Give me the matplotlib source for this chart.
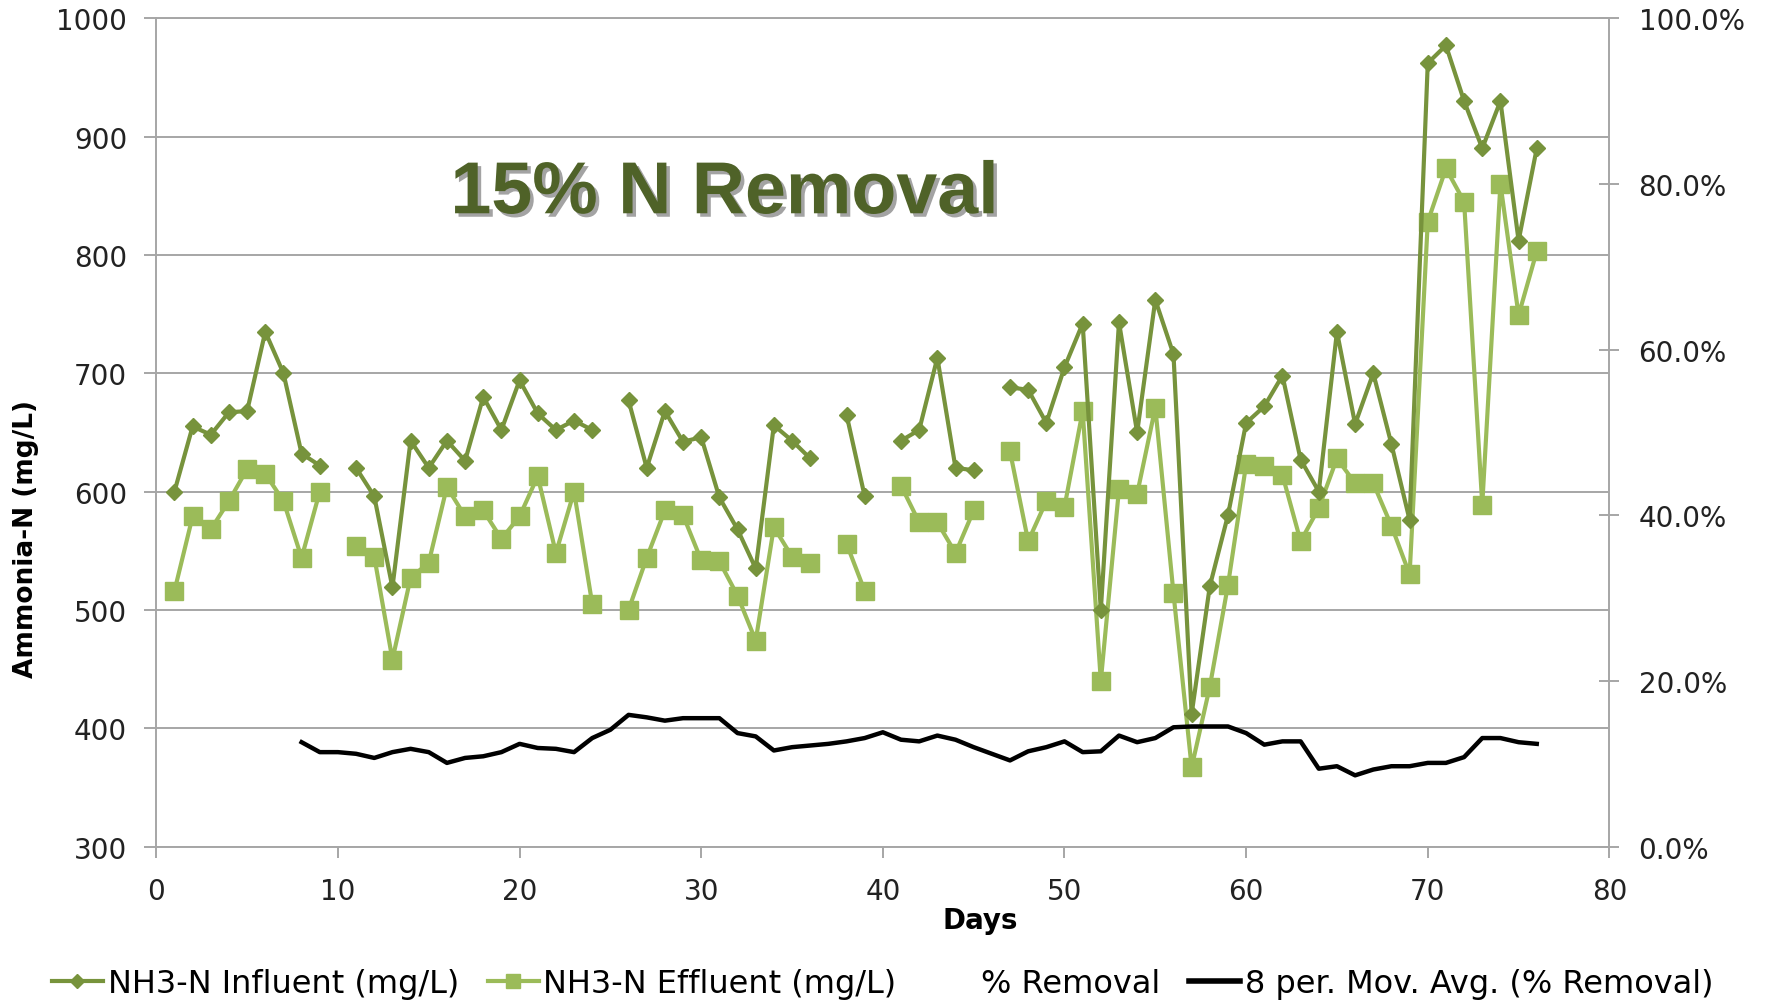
import numpy as np
import matplotlib
matplotlib.use("Agg")
import matplotlib.pyplot as plt
import matplotlib.patheffects as pe
from matplotlib.lines import Line2D
from matplotlib.ticker import PercentFormatter

nan = np.nan

# days 1..76, nan = no sample that day
days = list(range(1, 77))
influent = [600, 655, 648, 667, 668, 735, 700, 632, 622, nan,
            620, 596, 519, 643, 620, 643, 626, 680, 652, 694,
            666, 652, 660, 652, nan, 677, 620, 668, 642, 646,
            595, 568, 535, 656, 643, 628, nan, 665, 596, nan,
            643, 652, 713, 620, 618, nan, 688, 686, 658, 705,
            742, 500, 743, 650, 762, 716, 412, 520, 580, 658,
            672, 698, 627, 600, 735, 657, 700, 640, 576, 962,
            977, 930, 890, 930, 812, 890]
effluent = [516, 579, 568, 592, 619, 615, 592, 544, 600, nan,
            554, 545, 458, 527, 540, 604, 579, 584, 560, 579,
            613, 548, 600, 505, nan, 500, 544, 584, 580, 542,
            541, 512, 474, 570, 545, 540, nan, 556, 516, nan,
            605, 574, 574, 548, 584, nan, 634, 558, 592, 587,
            668, 440, 602, 598, 671, 514, 367, 435, 521, 623,
            622, 614, 558, 586, 628, 607, 607, 571, 530, 828,
            873, 845, 589, 860, 749, 803]

# 8 period moving average of % removal, days 8..76
ma_days = list(range(8, 77))
ma_removal = [12.6, 11.4, 11.4, 11.2, 10.7, 11.4, 11.8, 11.4, 10.1, 10.7,
              10.9, 11.4, 12.4, 11.9, 11.8, 11.4, 13.1, 14.1, 15.9, 15.6,
              15.2, 15.5, 15.5, 15.5, 13.7, 13.3, 11.6, 12.0, 12.2, 12.4,
              12.7, 13.1, 13.8, 12.9, 12.7, 13.4, 12.9, 12.0, 11.2, 10.4,
              11.5, 12.0, 12.7, 11.4, 11.5, 13.4, 12.6, 13.1, 14.4, 14.5,
              14.5, 14.5, 13.7, 12.3, 12.7, 12.7, 9.4, 9.7, 8.6, 9.3,
              9.7, 9.7, 10.1, 10.1, 10.8, 13.1, 13.1, 12.6, 12.4]

inf_color = "#77933C"
eff_color = "#9BBB59"
grid_color = "#A6A6A6"

fig = plt.figure(figsize=(17.76, 10.04), dpi=100)
ax = fig.add_axes([0.088, 0.1558, 0.8182, 0.8251])

ax.plot(days, influent, color=inf_color, lw=3, marker="D", ms=8, zorder=3)
ax.plot(days, effluent, color=eff_color, lw=3, marker="s", ms=13, zorder=2)

ax.set_xlim(0, 80)
ax.set_ylim(300, 1000)
ax.set_xticks(range(0, 81, 10))
ax.set_yticks(range(300, 1001, 100))
ax.grid(axis="y", color=grid_color, lw=1.4)
ax.set_axisbelow(True)
for s in ax.spines.values():
    s.set_color(grid_color)
    s.set_linewidth(1.4)
ax.tick_params(axis="y", direction="out", length=9, width=1.4, color=grid_color,
               pad=12, labelsize=20, labelcolor="#222222")
ax.tick_params(axis="x", direction="out", length=8, width=1.4, color=grid_color,
               pad=14, labelsize=20, labelcolor="#222222")
ax.set_xlabel("Days", fontsize=20, fontweight="bold")
ax.xaxis.set_label_coords(0.567, -0.072)
ax.set_ylabel("Ammonia-N (mg/L)", fontsize=19, fontweight="bold")
ax.yaxis.set_label_coords(-0.081, 0.373)

ax2 = ax.twinx()
ax2.plot(ma_days, ma_removal, color="black", lw=3.2, zorder=4)
ax2.set_ylim(0, 100)
ax2.set_yticks(range(0, 101, 20))
ax2.yaxis.set_major_formatter(PercentFormatter(decimals=1))
for s in ax2.spines.values():
    s.set_visible(False)
ax2.tick_params(axis="y", direction="inout", length=14, width=1.4, color=grid_color,
                pad=14, labelsize=20, labelcolor="#222222")

fig.text(0.408, 0.806, "15% N Removal", family="Liberation Sans", fontsize=53,
         fontweight="bold", color="#4F6228", ha="center", va="center",
         path_effects=[pe.withSimplePatchShadow(offset=(2.5, -2.5),
                                                shadow_rgbFace="#999999", alpha=0.9)])

handles = [
    Line2D([], [], color=inf_color, lw=3, marker="D", ms=7),
    Line2D([], [], color=eff_color, lw=3, marker="s", ms=10),
    Line2D([], [], color="none"),
    Line2D([], [], color="black", lw=4),
]
labels = ["NH3-N Influent (mg/L)", "NH3-N Effluent (mg/L)", "% Removal",
          "8 per. Mov. Avg. (% Removal)"]
fig.legend(handles, labels, loc="center", bbox_to_anchor=(0.497, 0.019), ncol=4,
           frameon=False, fontsize=23, handlelength=1.6, handletextpad=0.15,
           columnspacing=0.9)

fig.savefig("out.png", dpi=100)
